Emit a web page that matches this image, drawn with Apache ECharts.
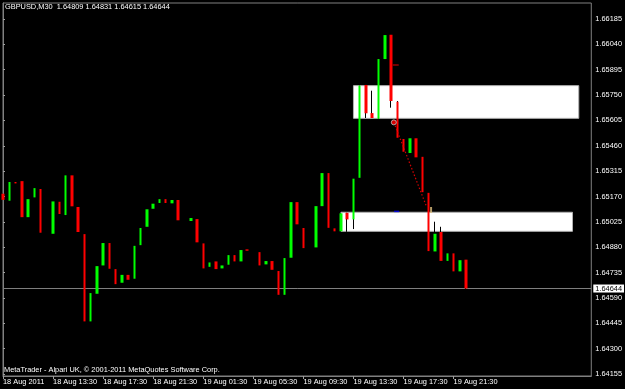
<!DOCTYPE html>
<html><head><meta charset="utf-8">
<script src="https://cdn.jsdelivr.net/npm/echarts@6/dist/echarts.min.js"></script>
<style>html,body{margin:0;padding:0;background:#000;}#c{width:625px;height:389px;}</style>
</head><body><div id="c"></div>
<script>
const symbolName = 'GBPUSD,M30';
const copyrightText = 'MetaTrader - Alpari UK, © 2001-2011 MetaQuotes Software Corp.';
const xTickLabels = ['18 Aug 2011','18 Aug 13:30','18 Aug 17:30','18 Aug 21:30','19 Aug 01:30','19 Aug 05:30','19 Aug 09:30','19 Aug 13:30','19 Aug 17:30','19 Aug 21:30'];
const yTickLabels = ['1.66185','1.66040','1.65895','1.65750','1.65605','1.65460','1.65315','1.65170','1.65025','1.64880','1.64735','1.64590','1.64445','1.64300','1.64155'];

const opens = [1.65186,1.65146,1.65253,1.65258,1.65052,1.65165,1.65213,1.64960,1.64957,1.65140,
1.65064,1.65291,1.65110,1.64955,1.64456,1.64614,1.64776,1.64904,1.64755,1.64677,
1.64722,1.64700,1.64892,1.64997,1.65100,1.65133,1.65155,1.65131,1.65150,1.65032,
1.65030,1.65041,1.64902,1.64768,1.64799,1.64759,1.64780,1.64835,1.64799,1.64868,
1.64856,1.64852,1.64782,1.64801,1.64744,1.64608,1.64820,1.65138,1.64990,1.64877,
1.64879,1.65115,1.65304,1.64988,1.64971,1.65077,1.65039,1.65277,1.65808,1.65647,
1.65615,1.65956,1.66095,1.65712,1.65499,1.65419,1.65503,1.65397,1.65191,1.64856,
1.64967,1.64802,1.64845,1.64742,1.64809];
const closes = [1.65151,1.65253,1.65245,1.65052,1.65155,1.65218,1.64963,1.64960,1.65142,1.65070,
1.65291,1.65114,1.64967,1.64456,1.64618,1.64772,1.64904,1.64757,1.64669,1.64722,
1.64694,1.64888,1.64990,1.65097,1.65129,1.65155,1.65133,1.65150,1.65034,1.65032,
1.65047,1.64908,1.64759,1.64793,1.64755,1.64776,1.64835,1.64799,1.64864,1.64860,
1.64856,1.64776,1.64801,1.64751,1.64608,1.64818,1.65138,1.65011,1.64875,1.64877,
1.65115,1.65304,1.64991,1.64971,1.65074,1.65039,1.65272,1.65804,1.65646,1.65619,
1.65956,1.66093,1.65716,1.65506,1.65426,1.65503,1.65394,1.65195,1.64858,1.64957,
1.64802,1.64845,1.64742,1.64806,1.64644];
const highs = [1.65186,1.65253,1.65253,1.65258,1.65155,1.65218,1.65213,1.64960,1.65142,1.65140,
1.65291,1.65291,1.65110,1.64955,1.64618,1.64772,1.64904,1.64904,1.64755,1.64722,
1.64722,1.64888,1.64990,1.65097,1.65129,1.65155,1.65155,1.65150,1.65150,1.65032,
1.65047,1.65041,1.64902,1.64793,1.64799,1.64776,1.64835,1.64835,1.64864,1.64868,
1.64856,1.64852,1.64801,1.64801,1.64744,1.64818,1.65138,1.65138,1.64990,1.64877,
1.65115,1.65304,1.65304,1.64988,1.65074,1.65077,1.65272,1.65804,1.65808,1.65775,
1.65956,1.66093,1.66095,1.65716,1.65499,1.65503,1.65503,1.65397,1.65191,1.65026,
1.64997,1.64845,1.64845,1.64806,1.64831];
const lows = [1.65151,1.65146,1.65245,1.65052,1.65052,1.65165,1.64963,1.64960,1.64957,1.65070,
1.65064,1.65114,1.64967,1.64456,1.64456,1.64614,1.64776,1.64757,1.64669,1.64677,
1.64694,1.64700,1.64892,1.64997,1.65100,1.65133,1.65133,1.65131,1.65034,1.65032,
1.65030,1.64908,1.64759,1.64768,1.64755,1.64759,1.64780,1.64799,1.64799,1.64860,
1.64856,1.64776,1.64782,1.64751,1.64608,1.64608,1.64820,1.65011,1.64875,1.64877,
1.64879,1.65115,1.64991,1.64971,1.64971,1.64968,1.64984,1.65277,1.65619,1.65619,
1.65615,1.65956,1.65678,1.65506,1.65426,1.65419,1.65394,1.65195,1.64858,1.64856,
1.64802,1.64802,1.64742,1.64742,1.64615];

// rectangles: [startBar, endBar, topPrice, bottomPrice]
const upperBox = [56, 92, 1.65804, 1.65617];
const lowerBox = [54, 91, 1.65080, 1.64971];
// trade line (bar position, price)
const tradeLine = [[62.45, 1.65594], [67.7, 1.65110]];
const openMarker = [[62.45, 1.65594]];
const redDash = [[62.75, 1.65922]];
const blueDash = [[62.9, 1.65085]];
const goldDash = [[68.4, 1.65093]];

const slotCount = 95;
const yMin = 1.641438, yMax = 1.662765;

// category time stamps (M30 bars starting 18 Aug 2011 09:30)
const months = ['Jan','Feb','Mar','Apr','May','Jun','Jul','Aug','Sep','Oct','Nov','Dec'];
const categories = [];
for (let i = 0; i < slotCount; i++) {
  const d = new Date(Date.UTC(2011, 7, 18, 9, 30) + i * 1800000);
  const p = n => (n < 10 ? '0' : '') + n;
  categories.push(d.getUTCDate() + ' ' + months[d.getUTCMonth()] + ' ' + p(d.getUTCHours()) + ':' + p(d.getUTCMinutes()));
}

const wickData = opens.map((o, i) => [o, closes[i], lows[i], highs[i]]);
const bodyData = opens.map((o, i) => [o, closes[i], Math.min(o, closes[i]), Math.max(o, closes[i])]);
const last = opens.length - 1;
const bidLine = [[0, closes[last]], [slotCount - 1, closes[last]]];
const titleText = symbolName + '  ' + [opens[last], highs[last], lows[last], closes[last]].map(v => v.toFixed(5)).join(' ');
const yTickValues = yTickLabels.map(Number);
const FONT = 'Liberation Sans, Arial, sans-serif';
const FS = 7.4;
const showTick = idx => idx % 8 === 0 && idx / 8 < xTickLabels.length;

const chart = echarts.init(document.getElementById('c'), null, {renderer: 'canvas'});
chart.setOption({
  backgroundColor: '#000',
  animation: false,
  grid: {left: 2, right: 30, top: 3, bottom: 13, show: true, borderColor: '#808080', borderWidth: 1, backgroundColor: '#000'},
  xAxis: [{
    type: 'category', data: categories, boundaryGap: false, position: 'bottom',
    axisLine: {lineStyle: {color: '#808080', width: 1}},
    axisTick: {show: true, interval: showTick, length: 3, lineStyle: {color: '#a0a0a0'}},
    axisLabel: {interval: showTick, align: 'left', margin: 2, color: '#ffffff', fontFamily: FONT, fontSize: FS,
      formatter: (v, idx) => xTickLabels[idx / 8] || ''},
    splitLine: {show: false}
  }, {
    type: 'value', min: 0, max: slotCount - 1, show: false
  }],
  yAxis: {
    type: 'value', position: 'right', min: yMin, max: yMax, scale: true,
    axisLine: {show: true, lineStyle: {color: '#808080', width: 1}},
    axisTick: {show: true, length: 2, customValues: yTickValues, lineStyle: {color: '#a0a0a0'}},
    axisLabel: {margin: 4, color: '#ffffff', fontFamily: FONT, fontSize: FS, customValues: yTickValues,
      formatter: v => v.toFixed(5)},
    splitLine: {show: false}
  },
  graphic: [
    {type: 'text', left: 5, top: 3, z: 100, style: {text: titleText, fill: '#ffffff', font: FS + 'px ' + FONT}},
    {type: 'text', left: 4, top: 366, z: 100, style: {text: copyrightText, fill: '#ffffff', font: FS + 'px ' + FONT}}
  ],
  series: [
    {
      name: 'bid', type: 'line', xAxisIndex: 1, data: bidLine, symbol: 'none', z: 1, silent: true,
      lineStyle: {color: '#808080', width: 1},
      endLabel: {show: true, distance: 2, formatter: () => closes[last].toFixed(5), backgroundColor: '#ffffff', color: '#000000',
        fontFamily: FONT, fontSize: FS, padding: [1, 2, 0, 2]}
    },
    {
      name: 'wicks', type: 'candlestick', data: wickData, barWidth: 1, z: 2,
      itemStyle: {color: '#000', color0: '#000', borderColor: '#000', borderColor0: '#000', borderColorDoji: '#000', borderWidth: 1},
      markArea: {
        silent: true,
        itemStyle: {color: '#ffffff', borderColor: '#b0b0b0', borderWidth: 1},
        data: [
          [{coord: [upperBox[0], upperBox[2]]}, {coord: [upperBox[1], upperBox[3]]}],
          [{coord: [lowerBox[0], lowerBox[2]]}, {coord: [lowerBox[1], lowerBox[3]]}]
        ]
      }
    },
    {
      name: 'bodies', type: 'candlestick', data: bodyData, barWidth: 3, z: 3,
      itemStyle: {color: '#00ff00', color0: '#ff0000', borderColor: '#00ff00', borderColor0: '#ff0000', borderColorDoji: '#000', borderWidth: 0}
    },
    {
      name: 'trade', type: 'line', xAxisIndex: 1, data: tradeLine, symbol: 'none', z: 4,
      lineStyle: {color: '#d00000', width: 1.2, type: [1.5, 2]}
    },
    {name: 'open', type: 'scatter', xAxisIndex: 1, data: openMarker, symbol: 'circle', symbolSize: 5, z: 5,
      itemStyle: {color: '#ff0000', borderColor: '#c8c8c8', borderWidth: 1}},
    {name: 'redDash', type: 'scatter', xAxisIndex: 1, data: redDash, symbol: 'rect', symbolSize: [6, 1.5], z: 5,
      itemStyle: {color: '#c00000'}},
    {name: 'blueDash', type: 'scatter', xAxisIndex: 1, data: blueDash, symbol: 'rect', symbolSize: [5, 1.5], z: 5,
      itemStyle: {color: '#0000ff'}},
    {name: 'goldDash', type: 'scatter', xAxisIndex: 1, data: goldDash, symbol: 'rect', symbolSize: [2, 6], z: 5,
      itemStyle: {color: '#e0c080'}}
  ]
});
</script></body></html>
